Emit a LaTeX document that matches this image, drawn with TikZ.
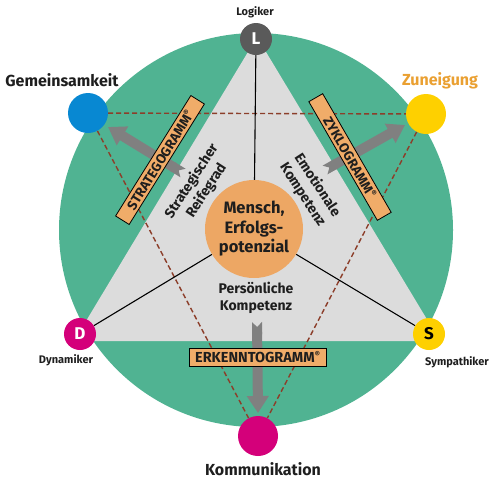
\documentclass[tikz,border=0pt]{standalone}
\usepackage{fontspec}
\setmainfont{Fira Sans}
\usetikzlibrary{arrows.meta}
\definecolor{circgreen}{RGB}{80,179,146}
\definecolor{trigray}{RGB}{220,220,220}
\definecolor{orng}{RGB}{237,167,100}
\definecolor{boxorng}{RGB}{240,172,105}
\definecolor{blu}{RGB}{8,136,210}
\definecolor{yel}{RGB}{254,208,0}
\definecolor{mag}{RGB}{212,0,122}
\definecolor{dgray}{RGB}{90,90,90}
\definecolor{zunorange}{RGB}{234,160,50}
\definecolor{brn}{RGB}{140,62,42}
\definecolor{agray}{RGB}{128,128,128}
\definecolor{txt}{RGB}{30,30,30}
\pgfdeclarelayer{bg}
\pgfdeclarelayer{lines}
\pgfsetlayers{bg,lines,main}
\newcommand{\regmark}{\raisebox{0.35em}{\fontsize{8}{8}\selectfont ®}}
\begin{document}
\begin{tikzpicture}[x=1pt,y=-1pt,
  bigdot/.style={circle,inner sep=0pt,minimum size=40pt},
  smalldot/.style={circle,inner sep=0pt,minimum size=32pt,font=\fontsize{17}{17}\selectfont\bfseries},
  lbl/.style={inner sep=0pt,text=txt,font=\fontsize{#1}{#1}\selectfont\bfseries},
  gbox/.style={draw=black,line width=0.8pt,fill=boxorng,inner sep=0pt,text=txt,
     minimum height=16pt,font=\fontsize{13.5}{13.5}\selectfont\bfseries},
  dashline/.style={draw=brn,line width=1.4pt,dash pattern=on 5pt off 3pt},
  spoke/.style={draw=black,line width=1.1pt},
  bigarrow/.style={draw=agray,line width=10pt,{Triangle Cap[reversed]}-{Triangle[width=21pt,length=17pt]}},
  ctext/.style={align=center,text=txt,inner sep=0pt,font=\fontsize{14}{17.5}\selectfont\bfseries}
]
\useasboundingbox (0,0) rectangle (502,488);
\begin{pgfonlayer}{bg}
  \fill[circgreen] (256,230) circle[radius=197pt];
  \begin{scope}
    \clip (256,230) circle[radius=197pt];
    \fill[trigray] (257,37) -- (74,341) -- (440,341) -- cycle;
  \end{scope}
\end{pgfonlayer}

% nodes
\node[bigdot,fill=blu] (G) at (88,113) {};
\node[bigdot,fill=yel] (Z) at (426,114) {};
\node[bigdot,fill=mag] (K) at (258,436) {};
\node[smalldot,fill=dgray,text=white] (L) at (256,39) {L};
\node[smalldot,fill=mag,text=white] (D) at (80,334) {D};
\node[smalldot,fill=yel,text=black] (S) at (429,334) {S};
\node[circle,fill=orng,minimum size=98pt,inner sep=0pt,align=center,text=txt,
      font=\fontsize{16.5}{19.5}\selectfont\bfseries] (M) at (254,229) {Mensch,\\Erfolgs-\\potenzial};

% boxes
\node[gbox,minimum width=142pt,rotate=58] (SB) at (160,160) {STRATEGOGRAMM\regmark};
\node[gbox,minimum width=137pt,rotate=-60] (ZB) at (350,157) {ZYKLOGRAMM\regmark};
\node[gbox,minimum width=137pt,minimum height=18pt,font=\fontsize{14.5}{14.5}\selectfont\bfseries] (EB) at (257.5,357) {ERKENNTOGRAMM\regmark};

% labels
\node[lbl=11] (lL) at (255,12) {Logiker};
\node[lbl=16] (lG) at (62,80) {Gemeinsamkeit};
\node[lbl=16,text=zunorange] (lZ) at (440,81) {Zuneigung};
\node[lbl=11] (lD) at (66,360) {Dynamiker};
\node[lbl=11] (lS) at (457,362) {Sympathiker};
\node[lbl=16] (lK) at (263,469) {Kommunikation};
\node[ctext] (pk) at (256,298) {Persönliche\\Kompetenz};
\node[ctext,rotate=57] (sr) at (199,186) {Strategischer\\Reifegrad};
\node[ctext,rotate=-57] (ek) at (310,190) {Emotionale\\Kompetenz};

% arrow coordinates
\coordinate (a1) at (183,173);
\coordinate (a1t) at (108,127);
\coordinate (a2) at (325,170);
\coordinate (a2t) at (405,125);
\coordinate (a3) at (257,322);
\coordinate (a3t) at (258,413);

\begin{pgfonlayer}{lines}
  \draw[dashline] (G) -- (Z);
  \draw[dashline] (G) -- (K);
  \draw[dashline] (Z) -- (K);
  \draw[spoke] (L) -- (M);
  \draw[spoke] (M) -- (D);
  \draw[spoke] (M) -- (S);
  \draw[bigarrow] (a1) -- (a1t);
  \draw[bigarrow] (a2) -- (a2t);
  \draw[bigarrow] (a3) -- (a3t);
\end{pgfonlayer}
\end{tikzpicture}
\end{document}
